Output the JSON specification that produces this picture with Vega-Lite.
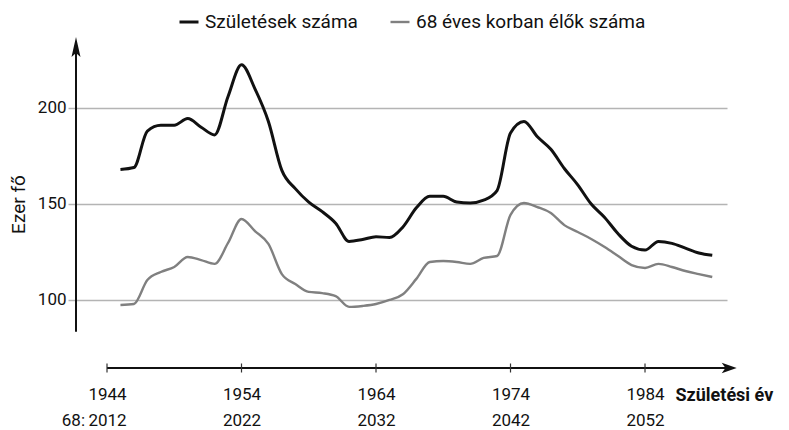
{
  "$schema": "https://vega.github.io/schema/vega-lite/v6.json",
  "width": 651,
  "height": 331,
  "autosize": {"type": "none"},
  "padding": {"left": 76, "top": 37, "right": 62, "bottom": 62},
  "background": "white",
  "config": {
    "view": {"stroke": null},
    "font": "Roboto, sans-serif"
  },
  "datasets": {
    "series": [
      {"year": 1945, "value": 168, "s": "Születések száma"},
      {"year": 1946, "value": 169, "s": "Születések száma"},
      {"year": 1947, "value": 188, "s": "Születések száma"},
      {"year": 1948, "value": 191, "s": "Születések száma"},
      {"year": 1949, "value": 191, "s": "Születések száma"},
      {"year": 1950, "value": 194.5, "s": "Születések száma"},
      {"year": 1951, "value": 190, "s": "Születések száma"},
      {"year": 1952, "value": 186, "s": "Születések száma"},
      {"year": 1953, "value": 206, "s": "Születések száma"},
      {"year": 1954, "value": 222.5, "s": "Születések száma"},
      {"year": 1955, "value": 210, "s": "Születések száma"},
      {"year": 1956, "value": 193, "s": "Születések száma"},
      {"year": 1957, "value": 167.5, "s": "Születések száma"},
      {"year": 1958, "value": 158, "s": "Születések száma"},
      {"year": 1959, "value": 151, "s": "Születések száma"},
      {"year": 1960, "value": 146, "s": "Születések száma"},
      {"year": 1961, "value": 140, "s": "Születések száma"},
      {"year": 1962, "value": 130.5, "s": "Születések száma"},
      {"year": 1963, "value": 131.5, "s": "Születések száma"},
      {"year": 1964, "value": 133, "s": "Születések száma"},
      {"year": 1965, "value": 132.5, "s": "Születések száma"},
      {"year": 1966, "value": 138, "s": "Születések száma"},
      {"year": 1967, "value": 148, "s": "Születések száma"},
      {"year": 1968, "value": 154, "s": "Születések száma"},
      {"year": 1969, "value": 154, "s": "Születések száma"},
      {"year": 1970, "value": 151, "s": "Születések száma"},
      {"year": 1971, "value": 150.5, "s": "Születések száma"},
      {"year": 1972, "value": 152, "s": "Születések száma"},
      {"year": 1973, "value": 157, "s": "Születések száma"},
      {"year": 1974, "value": 187, "s": "Születések száma"},
      {"year": 1975, "value": 193, "s": "Születések száma"},
      {"year": 1976, "value": 185, "s": "Születések száma"},
      {"year": 1977, "value": 178.5, "s": "Születések száma"},
      {"year": 1978, "value": 168.5, "s": "Születések száma"},
      {"year": 1979, "value": 160, "s": "Születések száma"},
      {"year": 1980, "value": 150, "s": "Születések száma"},
      {"year": 1981, "value": 143, "s": "Születések száma"},
      {"year": 1982, "value": 134.5, "s": "Születések száma"},
      {"year": 1983, "value": 128, "s": "Születések száma"},
      {"year": 1984, "value": 126, "s": "Születések száma"},
      {"year": 1985, "value": 130.5, "s": "Születések száma"},
      {"year": 1986, "value": 129.5, "s": "Születések száma"},
      {"year": 1987, "value": 127, "s": "Születések száma"},
      {"year": 1988, "value": 124.5, "s": "Születések száma"},
      {"year": 1989, "value": 123.3, "s": "Születések száma"},
      {"year": 1945, "value": 97.4, "s": "68 éves korban élők száma"},
      {"year": 1946, "value": 97.9, "s": "68 éves korban élők száma"},
      {"year": 1947, "value": 110.4, "s": "68 éves korban élők száma"},
      {"year": 1948, "value": 114.6, "s": "68 éves korban élők száma"},
      {"year": 1949, "value": 117.2, "s": "68 éves korban élők száma"},
      {"year": 1950, "value": 122.4, "s": "68 éves korban élők száma"},
      {"year": 1951, "value": 120.8, "s": "68 éves korban élők száma"},
      {"year": 1952, "value": 118.8, "s": "68 éves korban élők száma"},
      {"year": 1953, "value": 129.7, "s": "68 éves korban élők száma"},
      {"year": 1954, "value": 142.2, "s": "68 éves korban élők száma"},
      {"year": 1955, "value": 135.9, "s": "68 éves korban élők száma"},
      {"year": 1956, "value": 129.2, "s": "68 éves korban élők száma"},
      {"year": 1957, "value": 113.5, "s": "68 éves korban élők száma"},
      {"year": 1958, "value": 108.3, "s": "68 éves korban élők száma"},
      {"year": 1959, "value": 104.2, "s": "68 éves korban élők száma"},
      {"year": 1960, "value": 103.6, "s": "68 éves korban élők száma"},
      {"year": 1961, "value": 102, "s": "68 éves korban élők száma"},
      {"year": 1962, "value": 96.4, "s": "68 éves korban élők száma"},
      {"year": 1963, "value": 96.9, "s": "68 éves korban élők száma"},
      {"year": 1964, "value": 97.9, "s": "68 éves korban élők száma"},
      {"year": 1965, "value": 100, "s": "68 éves korban élők száma"},
      {"year": 1966, "value": 103, "s": "68 éves korban élők száma"},
      {"year": 1967, "value": 111, "s": "68 éves korban élők száma"},
      {"year": 1968, "value": 119.8, "s": "68 éves korban élők száma"},
      {"year": 1969, "value": 120.3, "s": "68 éves korban élők száma"},
      {"year": 1970, "value": 119.8, "s": "68 éves korban élők száma"},
      {"year": 1971, "value": 118.8, "s": "68 éves korban élők száma"},
      {"year": 1972, "value": 121.9, "s": "68 éves korban élők száma"},
      {"year": 1973, "value": 122.9, "s": "68 éves korban élők száma"},
      {"year": 1974, "value": 144.3, "s": "68 éves korban élők száma"},
      {"year": 1975, "value": 150.5, "s": "68 éves korban élők száma"},
      {"year": 1976, "value": 148.4, "s": "68 éves korban élők száma"},
      {"year": 1977, "value": 145.3, "s": "68 éves korban élők száma"},
      {"year": 1978, "value": 139, "s": "68 éves korban élők száma"},
      {"year": 1979, "value": 135.4, "s": "68 éves korban élők száma"},
      {"year": 1980, "value": 131.8, "s": "68 éves korban élők száma"},
      {"year": 1981, "value": 127.6, "s": "68 éves korban élők száma"},
      {"year": 1982, "value": 122.9, "s": "68 éves korban élők száma"},
      {"year": 1983, "value": 118.2, "s": "68 éves korban élők száma"},
      {"year": 1984, "value": 116.7, "s": "68 éves korban élők száma"},
      {"year": 1985, "value": 118.8, "s": "68 éves korban élők száma"},
      {"year": 1986, "value": 117.2, "s": "68 éves korban élők száma"},
      {"year": 1987, "value": 115.1, "s": "68 éves korban élők száma"},
      {"year": 1988, "value": 113.5, "s": "68 éves korban élők száma"},
      {"year": 1989, "value": 112, "s": "68 éves korban élők száma"}
    ],
    "ticks": [{"year": 1944}, {"year": 1954}, {"year": 1964}, {"year": 1974}, {"year": 1984}],
    "one": [{}]
  },
  "layer": [
    {
      "data": {"name": "series"},
      "mark": {"type": "line", "interpolate": "monotone"},
      "encoding": {
        "x": {
          "field": "year", "type": "quantitative",
          "scale": {"domain": [1941.695, 1990.096], "nice": false, "zero": false},
          "axis": {
            "orient": "bottom", "values": [1944, 1954, 1964, 1974, 1984],
            "domain": false, "ticks": false, "grid": false,
            "labelExpr": "[format(datum.value, 'd'), format(datum.value + 68, 'd')]",
            "labelFontSize": 17, "labelLineHeight": 26, "labelPadding": 18,
            "labelColor": "#111111", "labelFlush": false, "labelOverlap": false,
            "title": "Születési év", "titleX": 599, "titleY": 27,
            "titleAlign": "left", "titleBaseline": "middle", "titleAngle": 0,
            "titleFontSize": 18, "titleFontWeight": "bold", "titleColor": "#111111"
          }
        },
        "y": {
          "field": "value", "type": "quantitative",
          "scale": {"domain": [64.58, 236.98], "nice": false, "zero": false},
          "axis": {
            "values": [100, 150, 200], "domain": false,
            "ticks": true, "tickSize": 8, "tickColor": "#b4b4b4", "tickWidth": 1.5,
            "grid": true, "gridColor": "#b4b4b4", "gridWidth": 1.5,
            "labelPadding": 2, "labelFontSize": 17, "labelColor": "#111111",
            "title": "Ezer fő", "titleX": -58, "titleY": 167, "titleAngle": -90,
            "titleAlign": "center", "titleBaseline": "middle",
            "titleFontSize": 19, "titleFontWeight": "normal", "titleColor": "#111111"
          }
        },
        "color": {
          "field": "s", "type": "nominal",
          "scale": {"domain": ["Születések száma", "68 éves korban élők száma"], "range": ["#111111", "#808080"]},
          "legend": {
            "title": null, "orient": "none", "direction": "horizontal",
            "legendX": 102, "legendY": -26, "padding": 0,
            "symbolType": "stroke", "symbolSize": 361, "symbolStrokeWidth": 3,
            "labelFontSize": 19, "labelColor": "#111111", "labelOffset": 5,
            "columnPadding": 27, "labelLimit": 400
          }
        },
        "strokeWidth": {
          "field": "s", "type": "ordinal",
          "scale": {"domain": ["Születések száma", "68 éves korban élők száma"], "range": [3, 2.4]},
          "legend": null
        }
      }
    },
    {
      "data": {"name": "one"},
      "mark": {"type": "rule", "color": "#111111", "strokeWidth": 2},
      "encoding": {
        "x": {"datum": 1941.695, "type": "quantitative"},
        "y": {"datum": 83.5, "type": "quantitative"},
        "y2": {"datum": 230}
      }
    },
    {
      "data": {"name": "one"},
      "mark": {"type": "point", "shape": "M0,-1L0.45,1L0,0.6L-0.45,1Z", "size": 400, "filled": true, "color": "#111111", "opacity": 1},
      "encoding": {
        "x": {"datum": 1941.695, "type": "quantitative"},
        "y": {"datum": 231.8, "type": "quantitative"}
      }
    },
    {
      "data": {"name": "one"},
      "mark": {"type": "rule", "color": "#111111", "strokeWidth": 2},
      "encoding": {
        "x": {"datum": 1944, "type": "quantitative"},
        "x2": {"datum": 1990.1},
        "y": {"datum": 64.58, "type": "quantitative"}
      }
    },
    {
      "data": {"name": "one"},
      "mark": {"type": "point", "shape": "M1,0L-1,-0.7L-0.5,0L-1,0.7Z", "size": 225, "filled": true, "color": "#111111", "opacity": 1},
      "encoding": {
        "x": {"datum": 1990.26, "type": "quantitative"},
        "y": {"datum": 64.58, "type": "quantitative"}
      }
    },
    {
      "data": {"name": "ticks"},
      "mark": {"type": "tick", "orient": "vertical", "size": 9, "thickness": 1.2, "color": "#333333", "opacity": 1},
      "encoding": {
        "x": {"field": "year", "type": "quantitative"},
        "y": {"datum": 64.58, "type": "quantitative"}
      }
    },
    {
      "data": {"name": "one"},
      "mark": {"type": "text", "text": "68:", "align": "right", "baseline": "middle", "dx": -22, "dy": 53, "fontSize": 17, "color": "#111111"},
      "encoding": {
        "x": {"datum": 1944, "type": "quantitative"},
        "y": {"datum": 64.58, "type": "quantitative"}
      }
    }
  ]
}
